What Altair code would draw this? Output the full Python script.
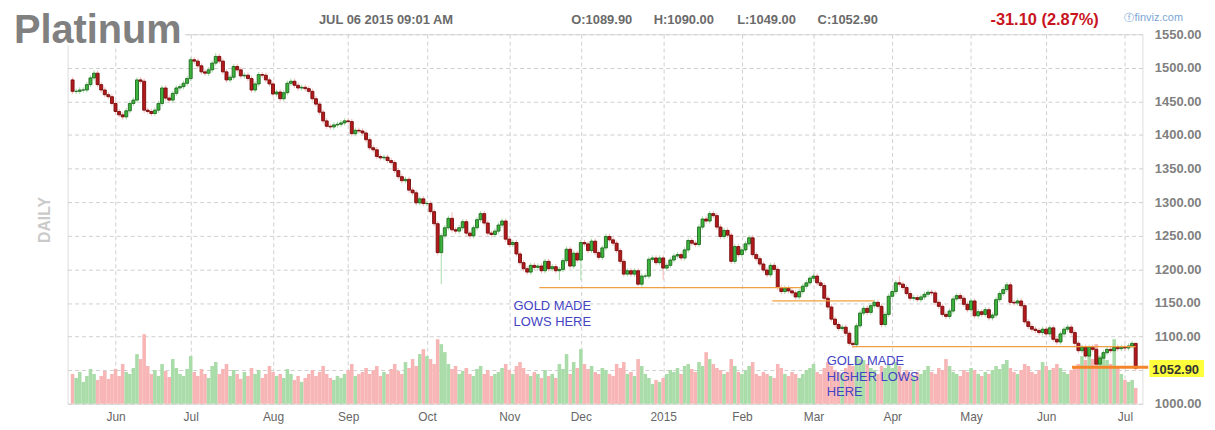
import altair as alt
import pandas as pd

# ---------------- data ----------------
DATES = pd.bdate_range("2014-05-15", "2015-07-06")

CLOSE = [
    # May 2014 (from 15th)
    1465, 1465, 1467, 1467, 1475, 1485, 1492, 1475, 1467, 1460, 1457, 1447,
    # Jun
    1435, 1430, 1427, 1436, 1447, 1452, 1482, 1480, 1437, 1435, 1432, 1437, 1447, 1470,
    1455, 1452, 1462, 1470, 1472, 1477, 1484,
    # Jul
    1512, 1510, 1503, 1494, 1492, 1497, 1507, 1517, 1510, 1494, 1482, 1486, 1502, 1497,
    1488, 1489, 1484, 1467, 1476, 1490, 1489, 1482, 1476,
    # Aug
    1461, 1464, 1454, 1463, 1477, 1480, 1474, 1470, 1471, 1469, 1465, 1454, 1446, 1434,
    1421, 1413, 1412, 1415, 1416, 1418, 1421,
    # Sep
    1420, 1402, 1407, 1406, 1403, 1393, 1381, 1378, 1368, 1366, 1367, 1362, 1359, 1347,
    1338, 1332, 1334, 1318, 1314, 1299, 1305, 1298,
    # Oct
    1298, 1286, 1268, 1225, 1250, 1262, 1276, 1259, 1257, 1262, 1271, 1254, 1250, 1262,
    1274, 1283, 1269, 1254, 1252, 1257, 1266, 1272, 1245,
    # Nov
    1237, 1240, 1223, 1210, 1201, 1196, 1206, 1203, 1205, 1198, 1212, 1201, 1204, 1198,
    1200, 1213, 1230, 1205, 1224, 1214,
    # Dec
    1240, 1238, 1228, 1242, 1225, 1218, 1232, 1249, 1244, 1239, 1228, 1212, 1193, 1198,
    1193, 1198, 1178, 1190, 1190, 1215, 1217, 1210, 1217,
    # Jan 2015
    1202, 1206, 1214, 1220, 1222, 1217, 1229, 1243, 1239, 1237, 1263, 1275, 1272, 1283,
    1280, 1263, 1249, 1258, 1251, 1212, 1234, 1222,
    # Feb
    1229, 1238, 1247, 1222, 1216, 1208, 1199, 1192, 1206, 1200, 1173, 1167, 1172, 1168,
    1165, 1159, 1167, 1175, 1180, 1187,
    # Mar
    1190, 1180, 1176, 1157, 1144, 1126, 1118, 1112, 1114, 1105, 1090, 1088, 1116, 1135,
    1142, 1136, 1146, 1151, 1145, 1118, 1133, 1160,
    # Apr
    1167, 1180, 1178, 1173, 1164, 1157, 1158, 1155, 1159, 1163, 1166, 1165, 1151, 1145,
    1133, 1130, 1138, 1156, 1161, 1157, 1148, 1140,
    # May
    1153, 1131, 1137, 1133, 1140, 1128, 1132, 1155, 1164, 1170, 1177, 1151, 1150, 1153,
    1146, 1122, 1115, 1111, 1109, 1106, 1111,
    # Jun
    1104, 1113, 1096, 1092, 1104, 1111, 1114, 1106, 1090, 1079, 1084, 1071, 1084, 1081,
    1059, 1068, 1076, 1081, 1079, 1084, 1082, 1084,
    # Jul
    1083, 1086, 1089.9, 1052.9,
]

VOLUME = [
    30, 26, 32, 22, 28, 35, 30, 24, 28, 33, 25, 30,
    35, 28, 40, 32, 30, 36, 50, 45, 70, 38, 30, 34, 28, 40, 33, 27, 45, 36, 30, 28, 35,
    48, 32, 28, 35, 30, 26, 38, 42, 30, 35, 40, 28, 34, 30, 25, 32, 28, 36, 30, 34, 26, 30, 38,
    32, 28, 30, 26, 35, 30, 24, 28, 22, 26, 30, 34, 28, 32, 38, 30, 26, 24, 28, 26, 30,
    34, 40, 28, 30, 32, 36, 30, 34, 38, 28, 32, 30, 35, 40, 33, 30, 42, 36, 45, 38, 50, 55,
    48, 45, 40, 65, 60, 52, 40, 35, 38, 30, 33, 36, 30, 28, 35, 38, 30, 34, 28, 30, 32, 36, 40,
    34, 30, 38, 42, 36, 30, 28, 32, 30, 26, 34, 28, 30, 26, 40, 35, 50, 30, 42, 36,
    55, 40, 35, 38, 32, 30, 36, 34, 30, 28, 40, 36, 42, 30, 32, 28, 45, 38, 30, 26, 20, 24, 22,
    26, 30, 34, 32, 36, 30, 38, 40, 35, 32, 42, 38, 52, 45, 40, 36, 34, 30, 32, 45, 38, 32,
    30, 34, 38, 42, 30, 28, 32, 30, 28, 26, 40, 36, 30, 28, 32, 30, 26, 30, 34, 36,
    40, 32, 30, 36, 42, 38, 34, 32, 30, 36, 40, 38, 48, 45, 44, 40, 36, 34, 30, 38, 36, 40,
    36, 42, 38, 30, 34, 30, 28, 32, 30, 34, 38, 32, 30, 36, 34, 45, 38, 32, 30, 28, 34, 32,
    36, 34, 30, 28, 32, 30, 34, 38, 35, 40, 44, 36, 32, 30, 34, 40, 38, 32, 30, 34, 42,
    38, 34, 36, 40, 36, 32, 30, 34, 36, 40, 48, 44, 50, 45, 60, 48, 46, 44, 40, 65, 38, 30,
    24, 22, 24, 16,
]

FIRST_OPEN = 1482.0
WICK = 4.0
HIGH_OVERRIDE = {40: 1522, 106: 1285, 231: 1190, 261: 1181, 297: 1090.0}
LOW_OVERRIDE = {103: 1178, 136: 1184, 142: 1184, 158: 1175, 165: 1185, 218: 1083, 297: 1049.0}

# support / resistance lines: (start index, end index, price)
LEVELS = [(130.4, 203.5, 1173), (195.5, 223.9, 1153), (217.8, 297.0, 1085)]
CURRENT_LINE = (279.2, 300.5, 1054.5)

NOTES = [
    (123.2, 1139, "GOLD MADE"), (123.2, 1116, "LOWS HERE"),
    (210.7, 1058, "GOLD MADE"), (210.7, 1034, "HIGHER LOWS"), (210.7, 1011, "HERE"),
]
PRICE_TICKS = list(range(1000, 1551, 50))
HIDDEN_TICK = 1050  # covered by the last-price marker

# ---------------- build table ----------------
n = len(DATES)
assert len(CLOSE) == n and len(VOLUME) == n, (n, len(CLOSE), len(VOLUME))
opens = [FIRST_OPEN] + CLOSE[:-1]
rows = []
for i in range(n):
    o, c = float(opens[i]), float(CLOSE[i])
    hi = HIGH_OVERRIDE.get(i, max(o, c) + WICK)
    lo = LOW_OVERRIDE.get(i, min(o, c) - WICK)
    rows.append(dict(i=i, open=o, close=c, high=hi, low=lo, vol=VOLUME[i],
                     dir="up" if c >= o else "down"))
df = pd.DataFrame(rows)

month_idx, month_lab = [], []
for k in range(1, n):
    if DATES[k].month != DATES[k - 1].month:
        month_idx.append(k)
        month_lab.append("2015" if DATES[k].month == 1 else DATES[k].strftime("%b"))
expr = "''"
for k, lab in reversed(list(zip(month_idx, month_lab))):
    expr = f"datum.value == {k} ? '{lab}' : ({expr})"

W, H = 1082, 372
FONT = "Liberation Sans"
GRID = "#d0d0d0"

xscale = alt.Scale(domain=[0, 297.5], nice=False, zero=False)
pscale = alt.Scale(domain=[1000, 1550], nice=False, zero=False)
xaxis = alt.Axis(values=month_idx, labelExpr=expr, grid=True, gridDash=[4, 3],
                 gridColor=GRID, ticks=False, domain=False, labelColor="#666",
                 labelFontSize=12, labelPadding=8, title=None, labelFont=FONT,
                 labelFlush=False)
yaxis = alt.Axis(orient="right", values=PRICE_TICKS,
                 labelExpr=f"datum.value == {HIDDEN_TICK} ? '' : format(datum.value, '.2f')",
                 grid=True, gridDash=[4, 3], gridColor=GRID, ticks=False, domain=False,
                 labelColor="#808080", labelFontSize=13, labelFontWeight="bold",
                 labelPadding=12, title=None, labelFont=FONT)


def X(field="i"):
    return alt.X(f"{field}:Q", scale=xscale, axis=xaxis)


def Y(field):
    return alt.Y(f"{field}:Q", scale=pscale, axis=yaxis)


dir_fill = alt.Scale(domain=["up", "down"], range=["#3db43d", "#b41a1c"])
dir_line = alt.Scale(domain=["up", "down"], range=["#1d6a1d", "#760a0a"])
vol_fill = alt.Scale(domain=["up", "down"], range=["#a9dca9", "#f7b5b5"])

base = alt.Chart(df)

volume = base.mark_bar(size=3.6).encode(
    x=X(),
    y=alt.Y("vol:Q", scale=alt.Scale(domain=[0, H]), axis=None),
    color=alt.Color("dir:N", scale=vol_fill, legend=None),
)

wicks = base.mark_rule(strokeWidth=1).encode(
    x=X(), y=Y("low"), y2="high:Q",
    color=alt.Color("dir:N", scale=dir_line, legend=None),
)
bodies = base.mark_bar(size=3, strokeWidth=0.9).encode(
    x=X(), y=Y("open"), y2="close:Q",
    fill=alt.Fill("dir:N", scale=dir_fill, legend=None),
    stroke=alt.Stroke("dir:N", scale=dir_line, legend=None),
)

lv = pd.DataFrame([dict(x1=a, x2=b, y=p) for a, b, p in LEVELS])
levels = alt.Chart(lv).mark_rule(color="#f0a040", strokeWidth=1.3).encode(
    x=X("x1"), x2="x2:Q", y=Y("y"),
)
cur = pd.DataFrame([dict(x1=CURRENT_LINE[0], x2=CURRENT_LINE[1], y=CURRENT_LINE[2])])
curline = alt.Chart(cur).mark_rule(color="#f5852a", strokeWidth=3).encode(
    x=X("x1"), x2="x2:Q", y=Y("y"),
)

nt = pd.DataFrame([dict(x=a, y=p, t=s) for a, p, s in NOTES])
notes = alt.Chart(nt).mark_text(align="left", baseline="alphabetic", font=FONT,
                                fontSize=13, color="#4343c4").encode(
    x=X("x"), y=Y("y"), text="t:N",
)

price = alt.layer(wicks, bodies, levels, curline, notes)


def txt(px, py, s, **kw):
    return alt.Chart(pd.DataFrame({"t": [s]})).mark_text(
        align=kw.pop("align", "left"), baseline=kw.pop("baseline", "alphabetic"),
        font=FONT, **kw).encode(x=alt.value(px), y=alt.value(py), text="t:N")


def box(x1, x2, y1, y2, color):
    return alt.Chart(pd.DataFrame({"a": [0]})).mark_rect(color=color).encode(
        x=alt.value(x1), x2=alt.value(x2), y=alt.value(y1), y2=alt.value(y2))


header_style = dict(fontSize=13, fontWeight="bold", color="#6a6a6a")
decor = alt.layer(
    box(-58, 118, -33, 11, "white"),
    txt(-54, 9, "Platinum", fontSize=40, fontWeight="bold", color="#808080"),
    txt(253, -10, "JUL 06 2015 09:01 AM", **header_style),
    txt(507, -10, "O:1089.90", **header_style),
    txt(590, -10, "H:1090.00", **header_style),
    txt(674, -10, "L:1049.00", **header_style),
    txt(755, -10, "C:1052.90", **header_style),
    txt(929, -9.5, "-31.10 (2.87%)", fontSize=16.5, fontWeight="bold", color="#c8141e"),
    txt(1063, -13, "\u24d5", fontSize=10, color="#7aa6d4"),
    txt(1074, -13, "finviz.com", fontSize=11, color="#7aa6d4"),
    txt(-23, 187, "DAILY", fontSize=16, fontWeight="bold", color="#cacaca",
        angle=270, align="center", baseline="middle"),
    box(1089, 1144, 328, 345, "#ffff3c"),
    txt(1092, 342, "1052.90", fontSize=13, fontWeight="bold", color="#333333"),
)

chart = alt.layer(volume, price, decor).resolve_scale(y="independent").properties(
    width=W, height=H,
    padding={"left": 60, "top": 25, "right": 65, "bottom": 25},
    autosize=alt.AutoSizeParams(type="none"),
).configure_view(stroke=GRID, strokeDash=[4, 3]).configure(font=FONT)

chart.save("out.html", embed_options={"renderer": "svg", "actions": False})
